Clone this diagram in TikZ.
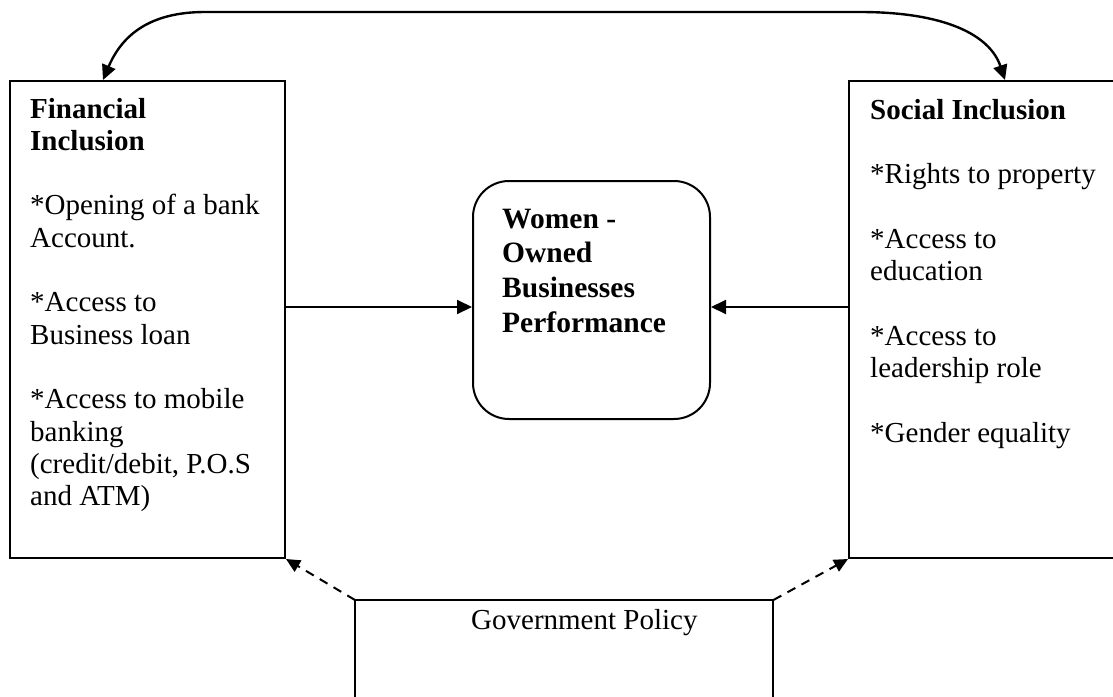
\documentclass[tikz,border=0pt]{standalone}
\usepackage{fontspec}
\setmainfont{Liberation Serif}
\usetikzlibrary{arrows.meta}
\tikzset{
  boxline/.style={draw, line width=2pt, inner sep=0pt},
  txt/.style={anchor=base west, inner sep=0pt},
  conn/.style={line width=2pt, -{Triangle[length=15pt,width=14pt]}},
  dconn/.style={line width=2pt, dash pattern=on 9pt off 7pt, -{Triangle[length=14pt,width=13pt]}},
}
\newcommand{\bodyfont}{\fontsize{29}{32.3}\selectfont}
\newcommand{\ctrfont}{\fontsize{29.5}{34.7}\selectfont}
\begin{document}
\begin{tikzpicture}[x=1pt,y=-1pt]
\useasboundingbox (0,0) rectangle (1113,696);
% boxes
\node[boxline, anchor=north west, minimum width=275pt, minimum height=477pt] (fin) at (9,80) {};
\node[boxline, anchor=north west, minimum width=270pt, minimum height=477pt] (soc) at (848,80) {};
\node[boxline, anchor=north west, minimum width=237pt, minimum height=238pt, rounded corners=36pt] (wob) at (472,180) {};
\node[inner sep=0pt, anchor=north west, minimum width=418pt, minimum height=100pt] (gov) at (355,600) {};
\draw[line width=2pt] (gov.south west) -- (gov.north west) -- (gov.north east) -- (gov.south east);
% texts
\node[txt] (fintxt) at (30,118) {\parbox[t]{300pt}{\bodyfont\raggedright
\textbf{Financial}\\
\textbf{Inclusion}\\[32.3pt]
*Opening of a bank\\
Account.\\[32.3pt]
*Access to\\
Business loan\\[32.3pt]
*Access to mobile\\
banking\\
(credit/debit, P.O.S\\
and ATM)}};
\node[txt] (soctxt) at (870,119) {\parbox[t]{300pt}{\bodyfont\raggedright
\textbf{Social Inclusion}\\[32.3pt]
*Rights to property\\[32.3pt]
*Access to\\
education\\[32.3pt]
*Access to\\
leadership role\\[32.3pt]
*Gender equality}};
\node[txt] (wobtxt) at (502,228) {\parbox[t]{200pt}{\ctrfont\raggedright\bfseries
Women -\\
Owned\\
Businesses\\
Performance}};
\node[txt] (govtxt) at (471,629) {\bodyfont Government Policy};
% connectors
\coordinate (la) at (103,80);
\coordinate (ra) at (1005,80);
\draw[line width=2.4pt, {Triangle[length=15pt,width=14pt]}-{Triangle[length=15pt,width=14pt]}]
  (la) .. controls (122,35) and (150,12) .. (205,12) -- (860,12)
  .. controls (945,12) and (990,35) .. (ra);
\draw[conn] (fin.east |- 0,307) -- (wob.west |- 0,307);
\draw[conn] (soc.west |- 0,307) -- (wob.east |- 0,307);
\draw[dconn] (gov.north west) -- (fin.south east);
\draw[dconn] (gov.north east) -- (soc.south west);
\end{tikzpicture}
\end{document}
